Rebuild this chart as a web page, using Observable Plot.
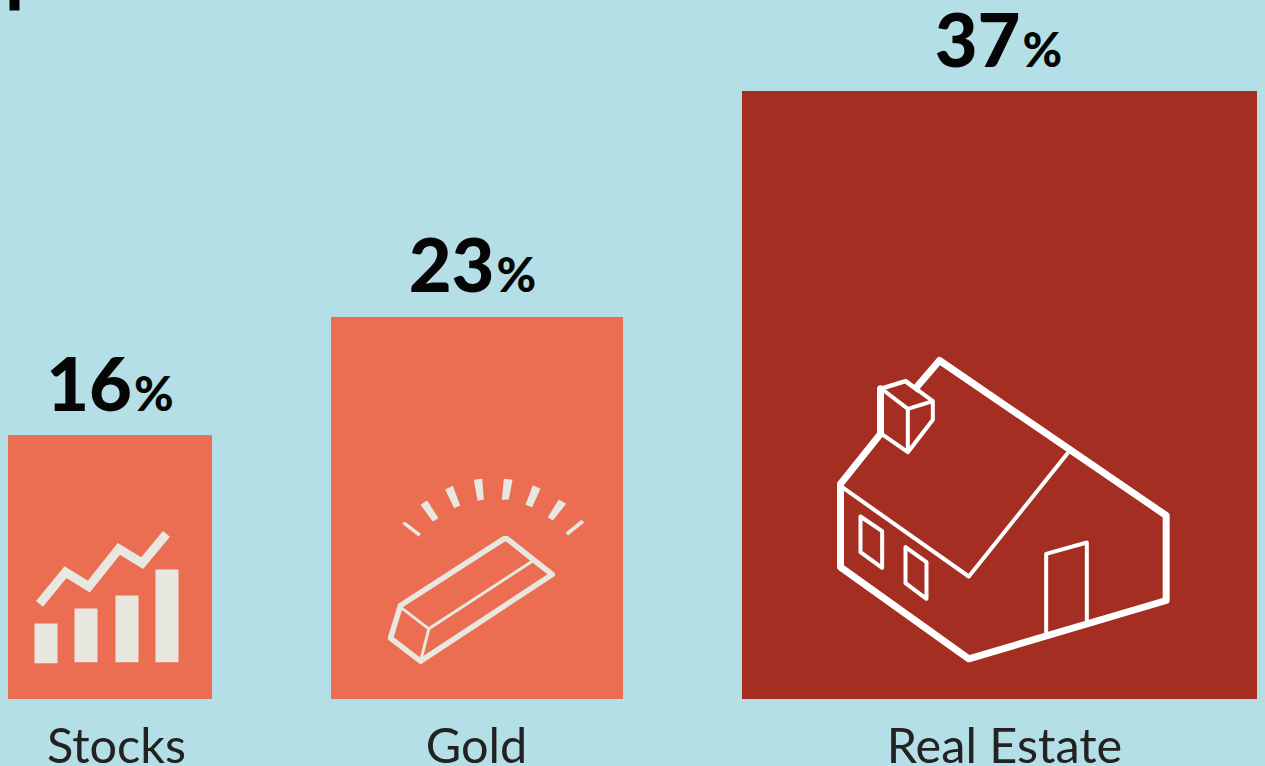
<!DOCTYPE html>
<html><head><meta charset="utf-8">
<style>html,body{margin:0;padding:0;background:#b5dfe6;overflow:hidden}svg{display:block}</style>
<script src="https://cdn.jsdelivr.net/npm/d3@7"></script>
<script src="https://cdn.jsdelivr.net/npm/@observablehq/plot@0.6"></script>
</head><body><div id="chart"></div>
<script>
const categories = ["Stocks", "Gold", "Real Estate"];
const shares = [16, 23, 37];
const barTops = [16.06, 23.25, 37];
const barStarts = [8, 331, 742];
const barEnds = [212, 623, 1257];
const barColors = ["#ec6e52", "#ec6e52", "#a32e21"];
const labelShifts = [6, -1, 4.5];
const valueShifts = [-0.5, -5, -1.5];

const paper = "#e8e8e0", white = "#ffffff";

// Icon artwork, in each icon's own artboard units
const stocksLine = [[57,265],[135,170],[205,213],[295,100],[365,143],[438,55]];
const stocksBars = [
  [[42,324],[111,324],[111,443],[42,443]],
  [[162,279],[231,279],[231,440],[162,440]],
  [[285,240],[354,240],[354,440],[285,440]],
  [[405,162],[474,162],[474,440],[405,440]]
];
const goldOutline = [[75,405],[385,205],[395,205],[530,312],[135,572],[45,503],[75,405]];
const goldInner1 = [[75,410],[160,475],[470,272]];
const goldInner2 = [[160,475],[135,572]];
const goldRays = [
  [[80,160],[88,153],[136,190],[130,199]],
  [[135,103],[155,90],[189,143],[172,153]],
  [[209,57],[232,46],[254,105],[236,113]],
  [[295,28],[320,25],[325,88],[306,91]],
  [[385,25],[411,28],[400,87],[379,88]],
  [[472,44],[495,55],[470,110],[450,103]],
  [[550,87],[572,100],[532,150],[517,140]],
  [[618,148],[626,156],[578,195],[570,187]]
];
const houseOuter = [[275,108],[342,30],[1022,495],[1022,750],[430,925],[45,650],[45,400],[165,250],[165,115]];
const houseChimneyTop = [[165,115],[240,92],[278,120]];
const houseThin = [
  [[240,92],[322,152],[322,208],[247,305],[165,248]],
  [[175,120],[247,175],[322,152]],
  [[247,175],[247,305]],
  [[50,410],[430,678],[725,310]],
  [[105,498],[170,542],[170,652],[105,605],[105,498]],
  [[240,590],[303,635],[303,745],[240,698],[240,590]],
  [[662,845],[662,610],[784,576],[784,808]]
];

const bars = categories.map((name, i) => {
  const mid = (barStarts[i] + barEnds[i]) / 2;
  return {
    name, share: shares[i], top: barTops[i], x1: barStarts[i], x2: barEnds[i],
    mid, color: barColors[i], labelX: mid + labelShifts[i], valueX: mid + valueShifts[i]
  };
});

// A D3-style symbol from artboard polylines; ox/oy place the artboard relative to the bar's foot
const icon = (polys, ox, oy, closed = false) => ({
  draw(c) {
    for (const p of polys) {
      p.forEach(([x, y], j) => {
        const X = x / 3 + ox, Y = y / 3 + oy;
        j ? c.lineTo(X, Y) : c.moveTo(X, Y);
      });
      if (closed) c.closePath();
    }
  }
});

const foot = (i, symbol, o) => Plot.dot([bars[i]], {x: "mid", y: 0, symbol, ...o});
const line = (stroke, strokeWidth, strokeLinejoin = "round") =>
  ({fill: "none", stroke, strokeWidth, strokeLinejoin, strokeLinecap: "round"});

const numFont = {fontFamily: "Lato", fontWeight: 900, fill: "#050505"};

const chart = Plot.plot({
  width: 1265, height: 766,
  margin: 0,
  style: {background: "#b5dfe6", overflow: "visible"},
  x: {domain: [0, 1265], range: [0, 1265], axis: null},
  y: {domain: [0, 37], range: [699, 91], axis: null},
  marks: [
    Plot.rect(bars, {x1: "x1", x2: "x2", y1: 0, y2: "top", fill: "color"}),
    // Stocks icon
    foot(0, icon(stocksBars, -90, -184, true), {fill: paper, stroke: "none"}),
    foot(0, icon([stocksLine], -90, -184), {fill: "none", stroke: paper, strokeWidth: 9, strokeLinejoin: "miter", strokeLinecap: "butt"}),
    // Gold icon
    foot(1, icon(goldRays, -102, -229, true), {fill: paper, stroke: "none"}),
    foot(1, icon([goldOutline], -102, -229), line(paper, 5.5)),
    foot(1, icon([goldInner1, goldInner2], -102, -229), line(paper, 3)),
    // Real Estate icon
    foot(2, icon([houseOuter], -174.5, -349), line(white, 7)),
    foot(2, icon([houseChimneyTop], -174.5, -349), line(white, 4.5)),
    foot(2, icon(houseThin, -174.5, -349), line(white, 4)),
    // Value labels
    Plot.text(bars, {x: "valueX", y: "top", text: d => String(d.share), textAnchor: "end", lineAnchor: "bottom", dx: 22, dy: -25, fontSize: 74, ...numFont}),
    Plot.text(bars, {x: "valueX", y: "top", text: () => "%", textAnchor: "start", lineAnchor: "bottom", dx: 24, dy: -25, fontSize: 48, ...numFont}),
    // Category labels
    Plot.text(bars, {x: "labelX", y: 0, text: "name", lineAnchor: "bottom", dy: 63, fontSize: 48.6, fontFamily: "Lato", fill: "#222222"}),
    // Remnant of the cropped headline
    Plot.ruleX([14], {y1: 42.6, y2: 41.9, stroke: "#000000", strokeWidth: 10})
  ]
});
document.getElementById("chart").append(chart);
</script></body></html>
